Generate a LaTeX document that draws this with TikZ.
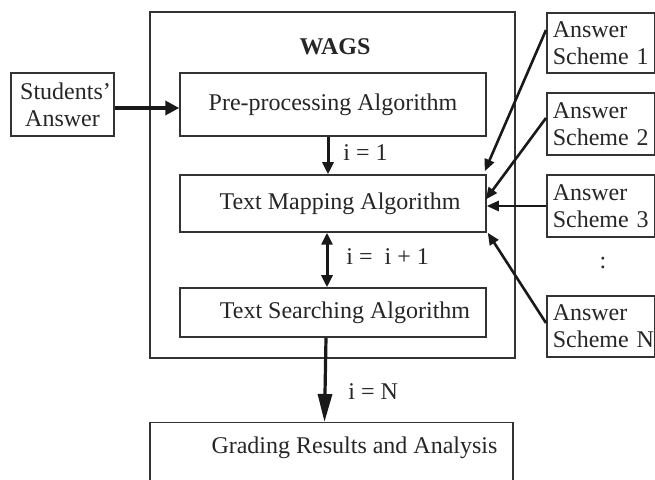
\documentclass[tikz,border=0pt]{standalone}
\usepackage{fontspec}
\setmainfont{Liberation Serif}
\usetikzlibrary{arrows.meta}
\tikzset{
  box/.style={draw=black!80, line width=0.75pt, inner sep=0pt,
    font=\fontsize{12}{13.5}\selectfont, text=black!85},
  lbl/.style={inner sep=0pt, font=\fontsize{12}{13.5}\selectfont, text=black!85, anchor=west},
  arr/.style={line width=1.5pt, draw=black!90, -{Triangle[length=6pt,width=5.5pt]}},
  sarrbig/.style={line width=1.7pt, draw=black!90, -{Triangle[length=7pt,width=7pt]}},
  darr/.style={line width=1.5pt, draw=black!90, {Triangle[length=6pt,width=5.5pt]}-{Triangle[length=6pt,width=5.5pt]}},
  bigarr/.style={line width=1.6pt, draw=black!90, -{Triangle[length=14pt,width=7pt]}},
  sarr/.style={line width=1.3pt, draw=black!90, -{Triangle[length=6pt,width=5pt]}},
  asbox/.style={box, minimum width=54pt, text width=48pt, inner xsep=3pt, align=left, anchor=west}
}
\begin{document}
\begin{tikzpicture}[x=0.5pt,y=-0.5pt]
\clip (0,0) rectangle (655,480);
\fill[white] (0,0) rectangle (655,480);
% outer WAGS box
\node[box, minimum width=182.5pt, minimum height=173pt] (wags) at (332.5,185) {};
\node[inner sep=0pt, font=\fontsize{12}{13.5}\selectfont\bfseries, text=black!85] (wagslbl) at (335,47) {WAGS};
% inner boxes
\node[box, minimum width=153pt, minimum height=31.5pt] (pre) at (333,104.5) {Pre-processing Algorithm};
\node[box, minimum width=153pt, minimum height=28.5pt] (map) at (333,203.5) {\hspace*{7pt}Text Mapping Algorithm};
\node[box, minimum width=153pt, minimum height=24.5pt] (search) at (333,312.5) {\hspace*{12pt}Text Searching Algorithm};
\node[box, minimum width=181.5pt, minimum height=40pt, anchor=north, text height=8.5pt, text depth=17.5pt] (grade) at (331.5,422) {\hspace*{23pt}Grading Results and Analysis};
% students
\node[box, minimum width=51.5pt, minimum height=31.5pt, align=center] (stud) at (62.5,104.5) {\hspace*{3pt}Students'\\Answer};
% answer schemes
\node[asbox, minimum height=30pt] (as1) at (546,43) {Answer\\\rlap{Scheme 1}};
\node[asbox, minimum height=31pt] (as2) at (546,124) {Answer\\\rlap{Scheme 2}};
\node[asbox, minimum height=31pt] (as3) at (546,206) {Answer\\\rlap{Scheme 3}};
\node[asbox, minimum height=30.5pt] (asn) at (546,326.5) {Answer\\\rlap{Scheme N}};
\node[inner sep=0pt, font=\fontsize{12}{13.5}\selectfont, text=black!85] (dots) at (603,263) {:};
% arrows
\draw[sarrbig] (stud.east |- 0,108) -- (pre.west |- 0,108);
\draw[arr] ([xshift=-2.5pt]pre.south) -- ([xshift=-2.5pt]map.north);
\draw[darr] ([xshift=-3pt]map.south) -- ([xshift=-3pt]search.north);
\draw[bigarr] ([xshift=-3.5pt]search.south) -- ([xshift=-3.5pt]grade.north);
\node[lbl] (l1) at (343,153) {i = 1};
\node[lbl] (l2) at (346,257) {i =\ \ i + 1};
\node[lbl] (l3) at (348,392) {i = N};
% answer scheme arrows
\draw[sarr] ([yshift=6.5pt]as1.west) -- ([xshift=-1pt,yshift=1.5pt]map.north east);
\draw[sarr] ([yshift=3pt]as2.west) -- ([xshift=-0.5pt,yshift=2pt]map.east);
\draw[sarr] (as3.west) -- (as3.west -| map.east);
\draw[sarr] ([yshift=1.75pt]asn.west) -- ([xshift=0.5pt]map.south east);
\end{tikzpicture}
\end{document}
